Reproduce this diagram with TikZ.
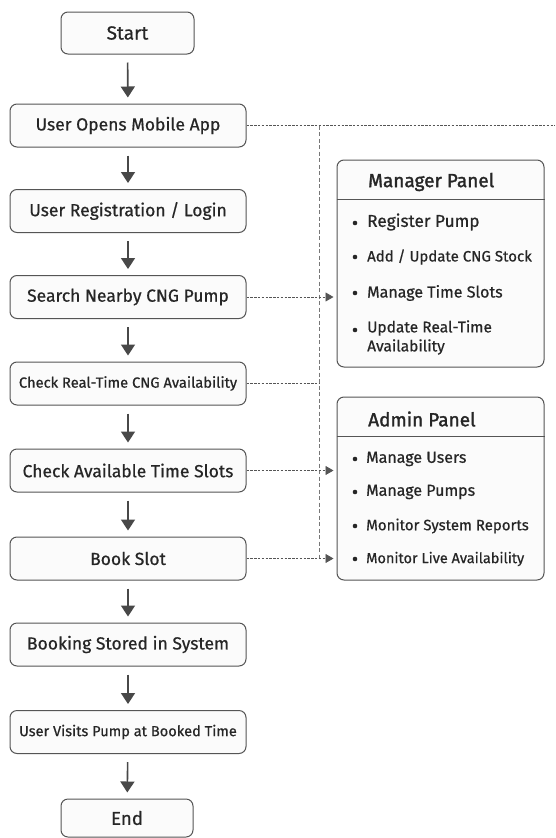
\documentclass[tikz,border=0pt]{standalone}
\usepackage{fontspec}
\setmainfont{Fira Sans}[UprightFeatures={FakeBold=0.6}]
\newfontfamily\headfont{Fira Sans}[UprightFeatures={FakeBold=1.6}]
\usetikzlibrary{arrows.meta}
\definecolor{ink}{HTML}{262626}
\definecolor{edge}{HTML}{555555}
\definecolor{boxfill}{HTML}{FBFBFB}
\begin{document}
\begin{tikzpicture}[x=1pt,y=-1pt,
  stepbox/.style={draw=edge,line width=1pt,fill=boxfill,rounded corners=7pt,
    minimum width=236pt,minimum height=43pt,inner sep=0pt,text=ink,
    font=\fontsize{17.5}{20}\selectfont},
  termbox/.style={stepbox,minimum width=133pt,minimum height=42pt,font=\fontsize{19}{22}\selectfont},
  flow/.style={draw=edge!85!black,line width=1.6pt,shorten <=8pt,shorten >=6pt,
    -{Triangle[length=11pt,width=14pt]}},
  link/.style={draw=edge,line width=0.8pt,dash pattern=on 2.4pt off 1.4pt},
  linkarrow/.style={link,-{Triangle[length=8pt,width=9pt]},shorten >=3pt},
  bus/.style={draw=edge!80,line width=0.7pt,dash pattern=on 4pt off 2.5pt},
  panel/.style={draw=edge,line width=1pt,fill=boxfill,rounded corners=7pt},
  ptitle/.style={anchor=west,text=ink,inner sep=0pt,font=\headfont\fontsize{19}{22}\selectfont},
  pitem/.style={anchor=west,text=ink,inner sep=0pt,align=left,font=\fontsize{15.5}{19}\selectfont},
  dot/.style={circle,fill=ink,inner sep=0pt,minimum size=4.6pt}
]
\useasboundingbox[fill=white] (0,0) rectangle (555,838);

% main flow
\node[termbox] (start) at (127.5,33) {Start};
\node[stepbox] (open) at (128,125.5) {User Opens Mobile App};
\node[stepbox] (login) at (128,211) {User Registration / Login};
\node[stepbox] (search) at (128,297) {Search Nearby CNG Pump};
\node[stepbox,font=\fontsize{14.7}{17}\selectfont] (check) at (128,383.5) {Check Real-Time CNG Availability};
\node[stepbox] (slots) at (128,470.5) {Check Available Time Slots};
\node[stepbox] (book) at (128,558.5) {Book Slot};
\node[stepbox] (stored) at (128,644.5) {Booking Stored in System};
\node[stepbox,font=\fontsize{14.6}{17}\selectfont] (visit) at (128,732) {User Visits Pump at Booked Time};
\node[termbox,minimum width=132pt,minimum height=38pt,font=\fontsize{18.7}{22}\selectfont] (end) at (127,818) {End};

\foreach \a/\b in {start/open,open/login,login/search,search/check,check/slots,
                   slots/book,book/stored,stored/visit,visit/end}
  \draw[flow] (\a) -- (\b);

% manager panel
\node[panel,minimum width=207pt,minimum height=207pt,inner sep=0pt] (mgr) at (440.5,263.5) {};
\draw[edge,line width=1pt] (mgr.west |- 0,199) -- (mgr.east |- 0,199);
\node[ptitle] (mgrtitle) at (368,182) {Manager Panel};
\node[dot] at (355,223) {};
\node[pitem,font=\fontsize{17.2}{19}\selectfont] at (367,222) {Register Pump};
\node[dot] at (355,257) {};
\node[pitem,font=\fontsize{15}{19}\selectfont] at (367,257) {Add / Update CNG Stock};
\node[dot] at (355,293) {};
\node[pitem,font=\fontsize{16}{19}\selectfont] at (367,293) {Manage Time Slots};
\node[dot] at (355,330) {};
\node[pitem] at (367,337.5) {Update Real-Time\\Availability};

% admin panel
\node[panel,minimum width=207pt,minimum height=183pt,inner sep=0pt] (adm) at (440.5,488.5) {};
\draw[edge,line width=1pt] (adm.west |- 0,436) -- (adm.east |- 0,436);
\node[ptitle] (admtitle) at (368,419) {Admin Panel};
\node[dot] at (355,459) {};
\node[pitem,font=\fontsize{16}{19}\selectfont] at (366,459) {Manage Users};
\node[dot] at (355,492) {};
\node[pitem,font=\fontsize{16}{19}\selectfont] at (366,492) {Manage Pumps};
\node[dot] at (355,526) {};
\node[pitem,font=\fontsize{15}{19}\selectfont] at (366,526) {Monitor System Reports};
\node[dot] at (355,559) {};
\node[pitem,font=\fontsize{14.5}{19}\selectfont] at (366,559) {Monitor Live Availability};

% dashed links between the flow and the panels
\coordinate (busx) at (319,0);
\coordinate (rim) at (555,0);
\draw[link] (open.east) -- (open.east -| rim);
\draw[bus] (open.east -| busx) -- (book.east -| busx);
\draw[linkarrow] (search.east) -- (search.east -| mgr.west);
\draw[link] (check.east) -- (check.east -| busx);
\draw[linkarrow] (slots.east) -- (slots.east -| adm.west);
\draw[linkarrow] (book.east) -- (book.east -| adm.west);
\end{tikzpicture}
\end{document}
